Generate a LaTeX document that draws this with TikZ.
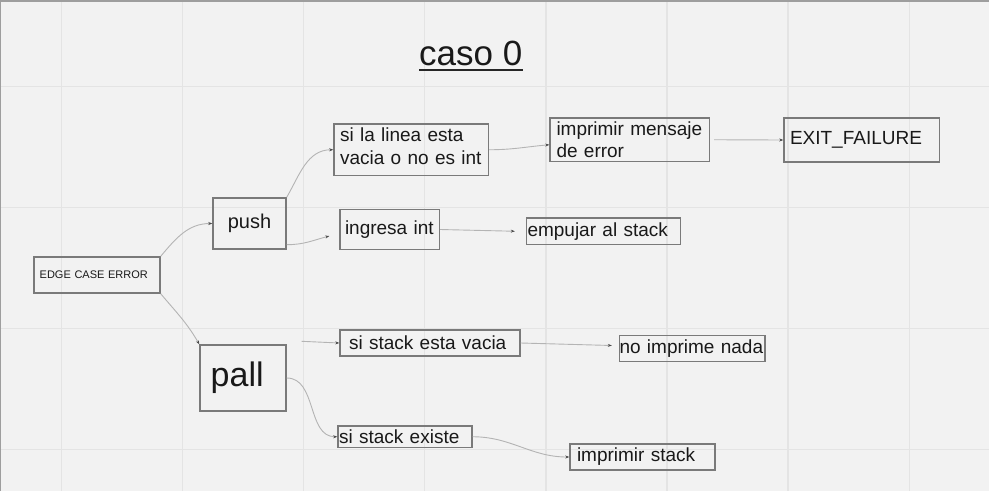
\documentclass[tikz,border=0pt]{standalone}
\usepackage{fontspec}
\setmainfont{Liberation Sans}
\usetikzlibrary{arrows.meta}
\definecolor{fondo}{HTML}{F2F2F2}
\definecolor{rejilla}{HTML}{E4E4E4}
\definecolor{borde}{HTML}{7A7A7A}
\definecolor{linea}{HTML}{B4B4B4}
\definecolor{punta}{HTML}{4A4A4A}
\tikzset{
  caja/.style={draw=borde, line width=1.4pt, rectangle, align=left, inner ysep=0pt,
    text=black!90, font=\fontsize{19}{22.6}\selectfont},
  flecha/.style={draw=linea, line width=0.9pt, -{Stealth[length=4pt,width=3pt,color=punta]}}
}
\begin{document}
\begin{tikzpicture}[x=1pt,y=-1pt]
\useasboundingbox (0,0) rectangle (989,491);
\fill[fondo] (0,0) rectangle (989,491);
\foreach \i in {0,...,7} \draw[rejilla, line width=1.3pt] (61.5+121.1*\i,0) -- (61.5+121.1*\i,491);
\foreach \j in {0,...,3} \draw[rejilla, line width=1.3pt] (0,86.5+121*\j) -- (989,86.5+121*\j);
\draw[black!38, line width=2pt] (0,1) -- (989,1);      % top edge
\draw[black!38, line width=1pt] (0.5,0) -- (0.5,491);  % left edge
\node[inner sep=0pt, anchor=base west, text=black!90, font=\fontsize{35}{40}\selectfont] (titulo) at (419,65) {caso 0};
\draw[line width=2.2pt, black!85] ([yshift=-5pt]titulo.base west) -- ([yshift=-5pt]titulo.base east);
\node[caja, text width=114.6pt, inner xsep=5.7pt, minimum height=36pt, font=\fontsize{11}{13}\selectfont] (edge) at (97,275) {EDGE CASE ERROR};
\node[caja, minimum width=73pt, minimum height=51pt, align=center, font=\fontsize{20}{24}\selectfont] (push) at (249.5,223.5) {push};
\node[caja, text width=64.6pt, inner xsep=10.7pt, minimum height=66pt, font=\fontsize{34}{40}\selectfont] (pall) at (243,378) {pall};
\node[caja, text width=142.5pt, inner xsep=6pt, minimum height=51.5pt, text depth=30pt] (vacia) at (411.25,149.75) {si la linea esta\\vacia o no es int};
\node[caja, text width=146.5pt, inner xsep=6.5pt, minimum height=43.5pt] (mensaje) at (629.75,139.75) {imprimir mensaje\\de error};
\node[caja, text width=143.5pt, inner xsep=6pt, minimum height=44pt] (exitf) at (861.75,140) {EXIT\_FAILURE};
\node[caja, text width=89.5pt, inner xsep=5pt, minimum height=40pt] (ingresa) at (389.75,229.5) {ingresa int};
\node[caja, text width=152pt, inner xsep=1pt, minimum height=26.5pt] (empujar) at (603.5,231.25) {empujar al stack};
\node[caja, text width=162pt, inner xsep=9pt, minimum height=26pt] (sivacia) at (430,343) {si stack esta vacia};
\node[caja, text width=145.5pt, inner xsep=0pt, minimum height=26pt] (nada) at (692.25,348.5) {no imprime nada};
\node[caja, text width=132pt, inner xsep=1pt, minimum height=21.5pt] (existe) at (405,436.75) {si stack existe};
\node[caja, text width=131pt, inner xsep=7pt, minimum height=26pt] (imprimir) at (642.5,457) {imprimir stack};
% connectors
\draw[flecha] (edge.north east) to[out=50,in=180] (push.west);
\draw[flecha] (edge.south east) to[out=-50,in=120] (pall.north west);
\draw[flecha] (push.north east) to[out=60,in=180] (vacia.west);
\draw[flecha] ([yshift=5pt]push.south east) to[out=0,in=195] ([xshift=-10pt,yshift=-6.5pt]ingresa.west);
\draw[flecha] (vacia.east) to[out=0,in=185] ([yshift=-5pt]mensaje.west);
\draw[flecha] ([xshift=4pt]mensaje.east) -- (exitf.west);
\draw[flecha] (ingresa.east) -- ([xshift=-11pt]empujar.west);
\draw[flecha] ([xshift=15pt,yshift=3pt]pall.north east) -- (sivacia.west);
\draw[flecha] (sivacia.east) -- ([xshift=-7pt,yshift=3pt]nada.west);
\draw[flecha] (pall.east) to[out=0,in=180] (existe.west);
\draw[flecha] (existe.east) to[out=0,in=180] (imprimir.west);
\end{tikzpicture}
\end{document}
